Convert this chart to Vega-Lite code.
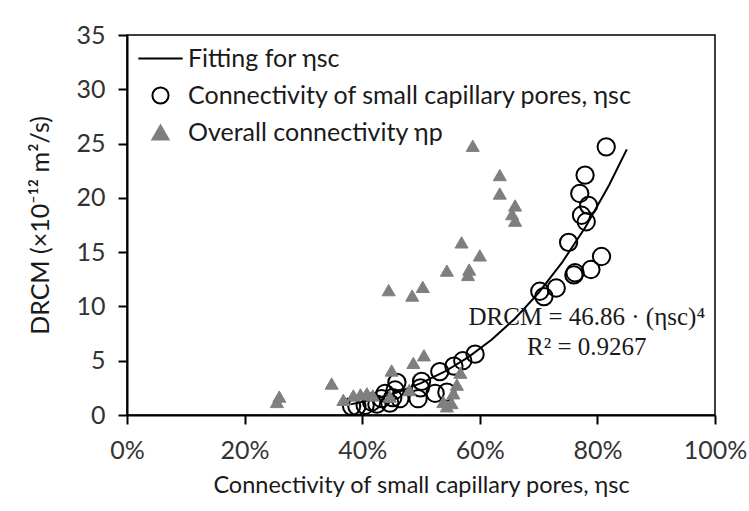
{
  "$schema": "https://vega.github.io/schema/vega-lite/v6.json",
  "width": 588,
  "height": 380,
  "autosize": "none",
  "padding": {"left": 127, "top": 35, "right": 34, "bottom": 96},
  "background": "white",
  "config": {
    "view": {"stroke": "black", "strokeWidth": 1.5},
    "font": "Lato",
    "axis": {"grid": false, "labelFlush": false, "domainColor": "black", "domainWidth": 2, "tickColor": "black", "tickWidth": 2, "tickSize": 9, "labelFont": "Lato", "labelFontSize": 25, "labelColor": "#333333", "titleFont": "Lato", "titleFontSize": 24, "titleFontWeight": "normal", "titleColor": "#1a1a1a"}
  },
  "datasets": {
    "fit": [
      {"eta": 0.38, "D": 0.977, "series": "Fitting for ηsc"},
      {"eta": 0.42, "D": 1.458, "series": "Fitting for ηsc"},
      {"eta": 0.46, "D": 2.098, "series": "Fitting for ηsc"},
      {"eta": 0.50, "D": 2.929, "series": "Fitting for ηsc"},
      {"eta": 0.54, "D": 3.985, "series": "Fitting for ηsc"},
      {"eta": 0.58, "D": 5.303, "series": "Fitting for ηsc"},
      {"eta": 0.62, "D": 6.924, "series": "Fitting for ηsc"},
      {"eta": 0.66, "D": 8.892, "series": "Fitting for ηsc"},
      {"eta": 0.70, "D": 11.251, "series": "Fitting for ηsc"},
      {"eta": 0.74, "D": 14.052, "series": "Fitting for ηsc"},
      {"eta": 0.78, "D": 17.345, "series": "Fitting for ηsc"},
      {"eta": 0.82, "D": 21.187, "series": "Fitting for ηsc"},
      {"eta": 0.85, "D": 24.461, "series": "Fitting for ηsc"}
    ],
    "sc": [
      {"eta": 0.382, "D": 0.8}, {"eta": 0.391, "D": 0.8}, {"eta": 0.405, "D": 0.9},
      {"eta": 0.416, "D": 1.2}, {"eta": 0.425, "D": 1.0}, {"eta": 0.433, "D": 1.5},
      {"eta": 0.439, "D": 2.0}, {"eta": 0.447, "D": 1.1}, {"eta": 0.452, "D": 1.6},
      {"eta": 0.456, "D": 2.3}, {"eta": 0.459, "D": 3.0}, {"eta": 0.464, "D": 1.5},
      {"eta": 0.495, "D": 1.5}, {"eta": 0.499, "D": 2.5}, {"eta": 0.501, "D": 3.1},
      {"eta": 0.524, "D": 2.0}, {"eta": 0.532, "D": 4.0}, {"eta": 0.544, "D": 2.1},
      {"eta": 0.556, "D": 4.5}, {"eta": 0.571, "D": 5.0}, {"eta": 0.592, "D": 5.6},
      {"eta": 0.702, "D": 11.4}, {"eta": 0.709, "D": 10.9}, {"eta": 0.730, "D": 11.7},
      {"eta": 0.760, "D": 12.9}, {"eta": 0.762, "D": 13.1}, {"eta": 0.751, "D": 15.9},
      {"eta": 0.789, "D": 13.4}, {"eta": 0.807, "D": 14.6}, {"eta": 0.773, "D": 18.4},
      {"eta": 0.781, "D": 17.8}, {"eta": 0.785, "D": 19.3}, {"eta": 0.770, "D": 20.4},
      {"eta": 0.779, "D": 22.1}, {"eta": 0.815, "D": 24.7}
    ],
    "p": [
      {"eta": 0.255, "D": 1.2}, {"eta": 0.259, "D": 1.7}, {"eta": 0.348, "D": 2.9},
      {"eta": 0.368, "D": 1.4}, {"eta": 0.385, "D": 1.8}, {"eta": 0.397, "D": 1.9},
      {"eta": 0.408, "D": 2.0}, {"eta": 0.418, "D": 1.8}, {"eta": 0.447, "D": 1.7},
      {"eta": 0.450, "D": 4.1}, {"eta": 0.480, "D": 2.3}, {"eta": 0.487, "D": 4.8},
      {"eta": 0.505, "D": 5.5}, {"eta": 0.538, "D": 1.2}, {"eta": 0.544, "D": 0.8},
      {"eta": 0.552, "D": 1.1}, {"eta": 0.555, "D": 2.0}, {"eta": 0.561, "D": 2.8},
      {"eta": 0.567, "D": 3.9}, {"eta": 0.445, "D": 11.5}, {"eta": 0.485, "D": 11.0},
      {"eta": 0.503, "D": 11.8}, {"eta": 0.544, "D": 13.3}, {"eta": 0.569, "D": 15.9},
      {"eta": 0.582, "D": 13.4}, {"eta": 0.580, "D": 12.9}, {"eta": 0.600, "D": 14.7},
      {"eta": 0.588, "D": 24.8}, {"eta": 0.634, "D": 22.1}, {"eta": 0.634, "D": 20.4},
      {"eta": 0.660, "D": 19.3}, {"eta": 0.655, "D": 18.5}, {"eta": 0.660, "D": 17.9}
    ]
  },
  "layer": [
    {
      "data": {"name": "fit"},
      "mark": {"type": "line", "strokeWidth": 2},
      "encoding": {
        "x": {"field": "eta", "type": "quantitative", "scale": {"domain": [0, 1], "nice": false}, "axis": {"format": ".0%", "values": [0, 0.2, 0.4, 0.6, 0.8, 1], "labelPadding": 14, "title": "Connectivity of small capillary pores, ηsc", "titlePadding": 10, "titleFontSize": 23.5}},
        "y": {"field": "D", "type": "quantitative", "scale": {"domain": [0, 35], "nice": false}, "axis": {"values": [0, 5, 10, 15, 20, 25, 30, 35], "labelPadding": 13, "title": "DRCM  (×10⁻¹² m²/s)", "titlePadding": 22, "titleFontSize": 25}},
        "stroke": {"field": "series", "type": "nominal",
          "scale": {"domain": ["Fitting for ηsc", "Connectivity of small capillary pores, ηsc", "Overall connectivity ηp"], "range": ["black", "black", "#7f7f7f"]},
          "legend": {"title": null, "orient": "none", "legendX": 21, "legendY": 11, "labelFont": "Lato", "labelFontSize": 25, "labelColor": "#1a1a1a", "symbolSize": 260, "symbolStrokeWidth": 2, "rowPadding": 11, "labelOffset": 15, "labelLimit": 600}}
      }
    },
    {
      "data": {"name": "sc"},
      "transform": [{"calculate": "'Connectivity of small capillary pores, ηsc'", "as": "series"}],
      "mark": {"type": "point", "size": 300, "strokeWidth": 2, "opacity": 1},
      "encoding": {
        "x": {"field": "eta", "type": "quantitative"},
        "y": {"field": "D", "type": "quantitative"},
        "stroke": {"field": "series", "type": "nominal"},
        "fill": {"field": "series", "type": "nominal", "scale": {"domain": ["Fitting for ηsc", "Connectivity of small capillary pores, ηsc", "Overall connectivity ηp"], "range": ["transparent", "transparent", "#7f7f7f"]}},
        "shape": {"field": "series", "type": "nominal", "scale": {"domain": ["Fitting for ηsc", "Connectivity of small capillary pores, ηsc", "Overall connectivity ηp"], "range": ["M-2.75,0L2.75,0", "circle", "triangle-up"]}}
      }
    },
    {
      "data": {"name": "p"},
      "transform": [{"calculate": "'Overall connectivity ηp'", "as": "series"}],
      "mark": {"type": "point", "size": 170, "strokeWidth": 1, "opacity": 1},
      "encoding": {
        "x": {"field": "eta", "type": "quantitative"},
        "y": {"field": "D", "type": "quantitative"},
        "stroke": {"field": "series", "type": "nominal"},
        "fill": {"field": "series", "type": "nominal"},
        "shape": {"field": "series", "type": "nominal"}
      }
    },
    {
      "data": {"values": [{}]},
      "mark": {"type": "text", "font": "Liberation Serif", "fontSize": 25, "lineHeight": 30, "align": "center", "baseline": "middle", "color": "#1a1a1a", "text": ["DRCM = 46.86 · (ηsc)⁴", "R² = 0.9267"]},
      "encoding": {"x": {"datum": 0.782}, "y": {"datum": 9.0}}
    }
  ]
}
